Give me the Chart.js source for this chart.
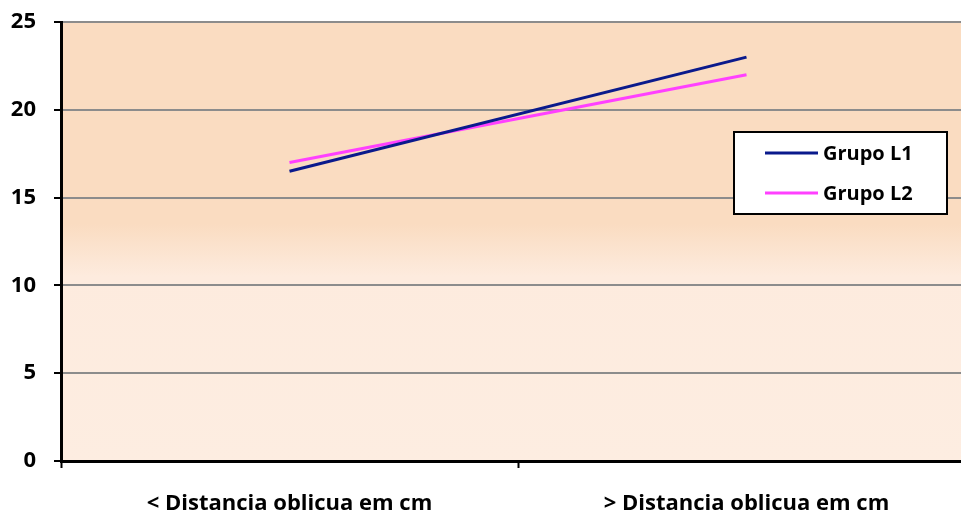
<!DOCTYPE html>
<html>
<head>
<meta charset="utf-8">
<script src="https://cdn.jsdelivr.net/npm/chart.js@4/dist/chart.umd.min.js"></script>
<style>
  html, body { margin: 0; padding: 0; background: #ffffff; overflow: hidden; }
  #wrap { width: 961px; height: 512px; overflow: hidden; }
</style>
</head>
<body>
<div id="wrap"><canvas id="c" width="975" height="512"></canvas></div>
<script>
// Categories and series values
const categories = ['< Distancia oblicua em cm', '> Distancia oblicua em cm'];
const grupoL1 = [16.5, 23.0];
const grupoL2 = [17.0, 22.0];
const seriesNames = ['Grupo L1', 'Grupo L2'];
const yTicks = [0, 5, 10, 15, 20, 25];

const FONT = '"Open Sans", Lato, sans-serif';

// Plot area background: warm peach fading into a paler tone lower down
const plotBackground = {
  id: 'plotBackground',
  beforeDraw(chart) {
    const { ctx, chartArea: a, scales } = chart;
    const y = scales.y;
    const g = ctx.createLinearGradient(0, a.top, 0, a.bottom);
    const stop1 = (y.getPixelForValue(13.5) - a.top) / (a.bottom - a.top);
    const stop2 = (y.getPixelForValue(10.5) - a.top) / (a.bottom - a.top);
    g.addColorStop(0, '#FADCC1');
    g.addColorStop(stop1, '#FADCC1');
    g.addColorStop(stop2, '#FDEBDE');
    g.addColorStop(1, '#FDEDE1');
    ctx.save();
    ctx.fillStyle = g;
    ctx.fillRect(a.left, a.top, a.right - a.left, a.bottom - a.top);
    ctx.restore();
  }
};

// Boxed legend drawn inside the plot area
const boxedLegend = {
  id: 'boxedLegend',
  afterDraw(chart) {
    const { ctx } = chart;
    const x = 734, y = 132, w = 213, h = 82;
    ctx.save();
    ctx.fillStyle = '#ffffff';
    ctx.fillRect(x, y, w, h);
    ctx.lineWidth = 2;
    ctx.strokeStyle = '#000000';
    ctx.strokeRect(x, y, w, h);
    chart.data.datasets.forEach((ds, i) => {
      const ry = 153 + i * 40;
      ctx.beginPath();
      ctx.strokeStyle = ds.borderColor;
      ctx.lineWidth = 3;
      ctx.moveTo(765, ry);
      ctx.lineTo(818, ry);
      ctx.stroke();
      ctx.fillStyle = '#000000';
      ctx.font = 'bold 20px ' + FONT;
      ctx.textBaseline = 'middle';
      ctx.textAlign = 'left';
      ctx.fillText(ds.label, 823, ry + 1);
    });
    ctx.restore();
  }
};

new Chart(document.getElementById('c'), {
  type: 'line',
  data: {
    labels: categories,
    datasets: [
      { label: seriesNames[0], data: grupoL1, borderColor: '#0A1A8C', borderWidth: 3, pointRadius: 0, fill: false, tension: 0 },
      { label: seriesNames[1], data: grupoL2, borderColor: '#FF40FF', borderWidth: 3, pointRadius: 0, fill: false, tension: 0 }
    ]
  },
  options: {
    responsive: false,
    animation: false,
    layout: { padding: { top: 22, right: 0, left: 0, bottom: 0 } },
    plugins: { legend: { display: false }, tooltip: { enabled: false } },
    scales: {
      x: {
        type: 'category',
        offset: true,
        grid: { offset: true, drawOnChartArea: false, drawTicks: true, tickLength: 7, tickWidth: 2, tickColor: '#000000' },
        border: { display: true, color: '#000000', width: 3 },
        ticks: { color: '#000000', font: { family: FONT, size: 22, weight: 'bold' }, padding: 23, maxRotation: 0, autoSkip: false },
        afterFit(scale) { scale.height = 51; scale.paddingLeft = 0; scale.paddingRight = 0; }
      },
      y: {
        min: 0, max: 25,
        afterBuildTicks(scale) { scale.ticks = yTicks.map(v => ({ value: v })); },
        grid: { color: '#8C8C8C', lineWidth: 2, drawTicks: true, tickLength: 7, tickColor: '#000000', tickWidth: 2 },
        border: { display: true, color: '#000000', width: 3 },
        ticks: { color: '#000000', font: { family: FONT, size: 22, weight: 'bold' }, padding: 18 },
        afterFit(scale) { scale.width = 61; scale.paddingTop = 0; scale.paddingBottom = 0; }
      }
    }
  },
  plugins: [plotBackground, boxedLegend]
});
</script>
</body>
</html>
